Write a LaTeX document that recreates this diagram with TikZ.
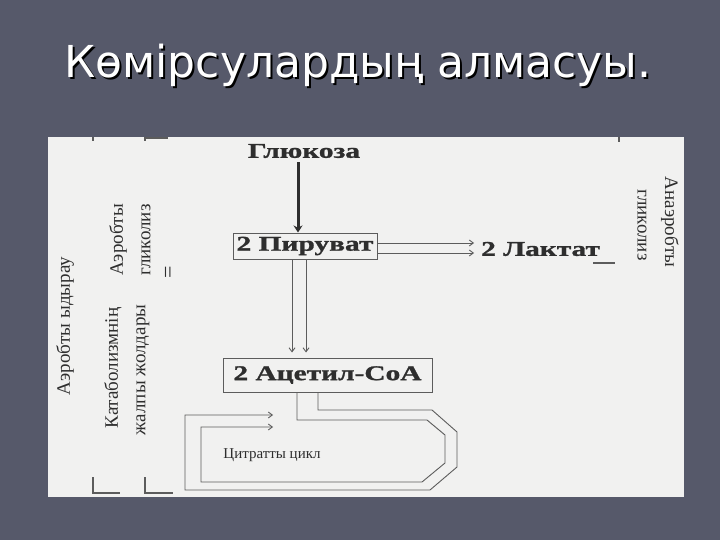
\documentclass[tikz,border=0pt]{standalone}
\usepackage{fontspec}
\setmainfont{Liberation Serif}
\newfontfamily\titlefont{DejaVu Sans}
\newfontfamily\widefont[FakeStretch=1.4,BoldFeatures={FakeBold=1.2}]{Liberation Serif}
\usetikzlibrary{arrows.meta,calc,positioning}
\definecolor{SlideBg}{HTML}{56596A}
\definecolor{SlidePaper}{HTML}{F1F1F0}
\definecolor{ScanInk}{HTML}{2E2E2E}
\definecolor{ScanLine}{HTML}{5C5C5C}
\tikzset{
  stagebox/.style={draw=ScanLine,line width=1pt,text=ScanInk,inner sep=0pt,
    font=\widefont\bfseries\fontsize{21}{23}\selectfont},
  stagetext/.style={text=ScanInk,inner sep=0pt,
    font=\widefont\bfseries\fontsize{21}{23}\selectfont},
  sidelabel/.style={text=ScanInk,inner sep=0pt,font=\fontsize{19}{21}\selectfont},
  pipe/.style={ScanLine,line width=0.9pt},
  pipearrow/.style={pipe,-{Straight Barb[length=4pt,width=6pt]}},
  markline/.style={ScanLine,line width=1.2pt}
}

\begin{document}
\begin{tikzpicture}[x=1pt,y=-1pt]
        \fill[SlideBg] (0,0) rectangle (720,540);
        \useasboundingbox (0,0) rectangle (720,540);

        % title with its shadow
        \node[anchor=base,text=black,font=\titlefont\fontsize{44}{50}\selectfont]
          (title-shadow) at (360,80) {Көмірсулардың алмасуы.};
        \node[anchor=base,text=white,font=\titlefont\fontsize{44}{50}\selectfont]
          (title) at (358,78) {Көмірсулардың алмасуы.};

        \fill[SlidePaper] (48,137) rectangle (684,497);

        \node[stagetext] (glucose) at (304,151) {Глюкоза};
        \node[stagebox,minimum width=144,minimum height=26] (pyruvate) at (305,246) {2 Пируват};
        \node[stagetext,anchor=west] (lactate) at (481,249) {2 Лактат};
        \node[stagebox,minimum width=209,minimum height=34] (acetyl) at (327.5,375) {2 Ацетил-CoA};
        \node[text=ScanInk,font=\fontsize{15}{17}\selectfont] (citrate) at (272,455) {Цитратты цикл};

        \node[sidelabel,rotate=90] (aer-break) at (65,326) {Аэробты ыдырау};
        \node[sidelabel,rotate=90] (catab) at (113,368) {Катаболизмнің};
        \node[sidelabel,rotate=90] (common) at (143,370) {жалпы жолдары};
        \node[sidelabel,rotate=90] (aer-gly) at (118,240) {Аэробты};
        \node[sidelabel,rotate=90] (gly-left) at (146,240) {гликолиз};
        \node[sidelabel,rotate=90,font=\fontsize{22}{24}\selectfont] (equal) at (170,272) {=};
        \node[sidelabel,rotate=-90] (anaer) at (670,222) {Анаэробты};
        \node[sidelabel,rotate=-90] (gly-right) at (642,225) {гликолиз};

        % glucose down to pyruvate
        \coordinate (g-out) at ($(glucose.south)+(-6,4)$);
        \draw[ScanInk,line width=3pt,-{Stealth[length=7pt,width=9pt]}]
          (g-out) -- (g-out |- pyruvate.north);

        % pyruvate to lactate, double line
        \coordinate (py-r1) at ($(pyruvate.east)+(0,-3)$);
        \coordinate (py-r2) at ($(pyruvate.east)+(0,7)$);
        \draw[pipearrow,shorten >=7pt] (py-r1) -- (py-r1 -| lactate.west);
        \draw[pipearrow,shorten >=7pt] (py-r2) -- (py-r2 -| lactate.west);

        % pyruvate to acetyl-CoA, double line
        \coordinate (py-d1) at ($(pyruvate.south)+(-13,0)$);
        \coordinate (py-d2) at ($(pyruvate.south)+(1,0)$);
        \draw[pipearrow,shorten >=5pt] (py-d1) -- (py-d1 |- acetyl.north);
        \draw[pipearrow,shorten >=5pt] (py-d2) -- (py-d2 |- acetyl.north);

        % citrate cycle loop
        \coordinate (ac-d1) at ($(acetyl.south)+(-30.5,0)$);
        \coordinate (ac-d2) at ($(acetyl.south)+(-9.5,0)$);
        \coordinate (cyc-in1) at (273,415);
        \coordinate (cyc-in2) at (273,427);
        \draw[pipearrow] (ac-d2) |- (432,410) -- (457,432) -- (457,467)
          -- (430,490) -- (185,490) |- (cyc-in1);
        \draw[pipearrow] (ac-d1) |- (427,420) -- (445,435) -- (445,463)
          -- (422,482) -- (201,482) |- (cyc-in2);

        % bracket ends
        \draw[markline] (93,477) -- (93,493) -- (120,493);
        \draw[markline] (145,477) -- (145,493) -- (173,493);
        \draw[markline] (593,263) -- (615,263);
        \draw[markline] (93,137) -- (93,141);
        \draw[markline] (145,141) -- (145,138) -- (168,138);
        \draw[markline] (619,137) -- (619,142);
      \end{tikzpicture}
\end{document}
